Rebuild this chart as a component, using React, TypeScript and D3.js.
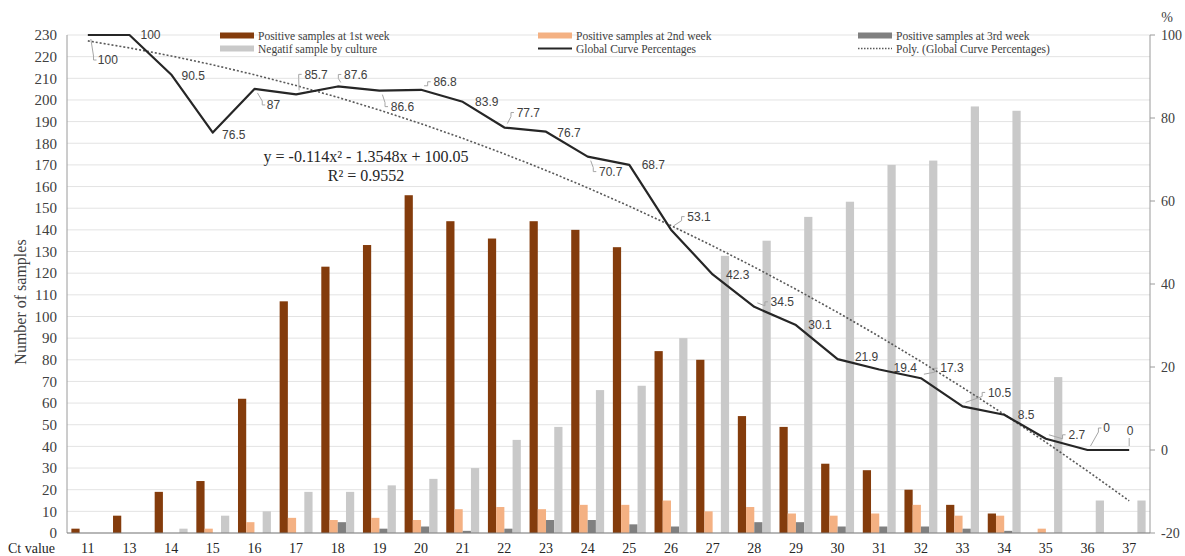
import React from "react";
import * as d3 from "d3";

const categories = ["11","13","14","15","16","17","18","19","20","21","22","23","24","25","26","27","28","29","30","31","32","33","34","35","36","37"];
const week1 = [2,8,19,24,62,107,123,133,156,144,136,144,140,132,84,80,54,49,32,29,20,13,9,0,0,0];
const week2 = [0,0,0,2,5,7,6,7,6,11,12,11,13,13,15,10,12,9,8,9,13,8,8,2,0,0];
const week3 = [0,0,0,0,0,0,5,2,3,1,2,6,6,4,3,0,5,5,3,3,3,2,1,0,0,0];
const negatif = [0,0,2,8,10,19,19,22,25,30,43,49,66,68,90,128,135,146,153,170,172,197,195,72,15,15];
const globalPct = [100,100,90.5,76.5,87,85.7,87.6,86.6,86.8,83.9,77.7,76.7,70.7,68.7,53.1,42.3,34.5,30.1,21.9,19.4,17.3,10.5,8.5,2.7,0,0];
const polyCoef = [-0.114, -1.3548, 100.05];
const leftTicks = d3.range(0, 231, 10);
const rightTicks = [-20, 0, 20, 40, 60, 80, 100];
const seriesNames = ["Positive samples at 1st week","Positive samples at 2nd week","Positive samples at 3rd week","Negatif sample by culture"];
const seriesColors = ["#843c0c","#f4b183","#808080","#c9c9c9"];
// label offsets relative to point: [dx, dy, leader]
const labelOffsets: [number, number, boolean][] = [
  [20,25,true],[21,0,false],[22,1,false],[21,2,false],[19,16,true],[20,-20,true],[18,-12,true],[23,16,true],
  [24,-8,true],[24,0,false],[24,-15,true],[23,1,false],[23,15,true],[24,0,false],[28,-13,true],[25,0,false],
  [28,-5,true],[24,0,false],[29,-2,false],[26,-2,false],[31,-10,true],[37,-14,true],[22,0,false],[31,-4,true],
  [19,-22,true],[1,-19,true]
];

const W = 1185, H = 556;
const L = 67, R = 1150, T = 35, B = 533;

export default function App() {
  const x = d3.scaleBand<string>().domain(categories).range([L, R]).padding(0);
  const bw = x.bandwidth();
  const groupW = bw * 0.79;
  const x1 = d3.scaleBand<number>().domain([0,1,2,3]).range([-groupW/2, groupW/2]).padding(0);
  const yL = d3.scaleLinear().domain([0, 230]).range([B, T]);
  const yR = d3.scaleLinear().domain([-20, 100]).range([B, T]);
  const cx = (i: number) => (x(categories[i]) as number) + bw / 2;
  const series = [week1, week2, week3, negatif];

  const line = d3.line<number>().x((_, i) => cx(i)).y(v => yR(v));
  const polyVals = categories.map((_, i) => {
    const t = i + 1;
    return polyCoef[0]*t*t + polyCoef[1]*t + polyCoef[2];
  });

  const serif = "'Liberation Serif', 'Times New Roman', serif";
  const sans = "'Liberation Sans', Arial, sans-serif";

  const legendItems = [
    { name: seriesNames[0], kind: "bar", color: seriesColors[0], x: 220, y: 35.5 },
    { name: seriesNames[1], kind: "bar", color: seriesColors[1], x: 538, y: 35.5 },
    { name: seriesNames[2], kind: "bar", color: seriesColors[2], x: 858, y: 35.5 },
    { name: seriesNames[3], kind: "bar", color: seriesColors[3], x: 220, y: 48.5 },
    { name: "Global Curve Percentages", kind: "line", color: "#262626", x: 538, y: 48.5 },
    { name: "Poly. (Global Curve Percentages)", kind: "dot", color: "#595959", x: 858, y: 48.5 },
  ];

  return (
    <svg width={W} height={H} style={{ position: "absolute", left: 0, top: 0, background: "#fff" }}>
      {leftTicks.map(t => (
        <line key={"g"+t} x1={L} x2={R} y1={yL(t)} y2={yL(t)} stroke="#e3e3e3" strokeWidth={1} />
      ))}
      {series.map((s, si) => s.map((v, i) => (
        v > 0 ? <rect key={si+"-"+i} x={cx(i) + (x1(si) as number)} y={yL(v)} width={x1.bandwidth()} height={yL(0) - yL(v)} fill={seriesColors[si]} /> : null
      )))}
      <line x1={L} x2={L} y1={T} y2={B} stroke="#9a9a9a" strokeWidth={1} />
      <line x1={R} x2={R} y1={T} y2={B} stroke="#9a9a9a" strokeWidth={1} />
      <line x1={L} x2={R} y1={B} y2={B} stroke="#7f7f7f" strokeWidth={1.2} />
      {leftTicks.map(t => (
        <text key={"lt"+t} x={L - 10} y={yL(t)} dy="0.35em" textAnchor="end" fontFamily={serif} fontSize={15} fill="#404040">{t}</text>
      ))}
      {rightTicks.map(t => (
        <g key={"rt"+t}>
          <line x1={R} x2={R + 5} y1={yR(t)} y2={yR(t)} stroke="#9a9a9a" />
          <text x={R + 11} y={yR(t)} dy="0.35em" textAnchor="start" fontFamily={serif} fontSize={14} fill="#404040">{t}</text>
        </g>
      ))}
      <text x={1167} y={17} dy="0.35em" textAnchor="middle" fontFamily={serif} fontSize={14} fill="#404040">%</text>
      {categories.map((c, i) => (
        <text key={"c"+c} x={cx(i)} y={548} dy="0.35em" textAnchor="middle" fontFamily={serif} fontSize={14} fill="#262626">{c}</text>
      ))}
      <text x={8} y={548} dy="0.35em" fontFamily={serif} fontSize={14} fill="#262626">Ct value</text>
      <text transform={`translate(20,302) rotate(-90)`} textAnchor="middle" dy="0.35em" fontFamily={serif} fontSize={16} fill="#404040">Number of samples</text>
      <path d={line(polyVals) || ""} fill="none" stroke="#595959" strokeWidth={1.6} strokeDasharray="2,2" />
      <path d={line(globalPct) || ""} fill="none" stroke="#262626" strokeWidth={2.2} strokeLinejoin="round" />
      {globalPct.map((v, i) => {
        const [dx, dy, leader] = labelOffsets[i];
        const px = cx(i), py = yR(v);
        const lx = px + dx, ly = py + dy;
        const txt = String(v);
        const w = txt.length * 6.2;
        const edge = lx - w / 2 - 2;
        let leaderPath = "";
        if (leader) {
          if (Math.abs(dx) < 5) {
            leaderPath = `M${px},${py - 4} V${ly + 7}`;
          } else {
            const sx = px + 3;
            const sy = py + (dy > 0 ? 4 : -4);
            leaderPath = `M${sx},${sy} L${edge - 3},${ly + (dy > 0 ? -4 : 4)} V${ly} H${edge}`;
          }
        }
        return (
          <g key={"lab"+i}>
            {leader && <path d={leaderPath} fill="none" stroke="#a6a6a6" strokeWidth={1} />}
            <text x={lx} y={ly} dy="0.35em" textAnchor="middle" fontFamily={sans} fontSize={12} fill="#404040">{txt}</text>
          </g>
        );
      })}
      <text x={366} y={156} dy="0.35em" textAnchor="middle" fontFamily={serif} fontSize={16} fill="#262626">y = -0.114x² - 1.3548x + 100.05</text>
      <text x={366} y={175} dy="0.35em" textAnchor="middle" fontFamily={serif} fontSize={16} fill="#262626">R² = 0.9552</text>
      {legendItems.map((it, k) => (
        <g key={"lg"+k}>
          {it.kind === "bar" && <rect x={it.x} y={it.y - 3} width={34} height={6} fill={it.color} />}
          {it.kind === "line" && <line x1={it.x} x2={it.x + 34} y1={it.y} y2={it.y} stroke={it.color} strokeWidth={2} />}
          {it.kind === "dot" && <line x1={it.x} x2={it.x + 34} y1={it.y} y2={it.y} stroke={it.color} strokeWidth={1.4} strokeDasharray="1.5,1.5" />}
          <text x={it.x + 38} y={it.y} dy="0.35em" fontFamily={serif} fontSize={11.5} fill="#404040">{it.name}</text>
        </g>
      ))}
    </svg>
  );
}
